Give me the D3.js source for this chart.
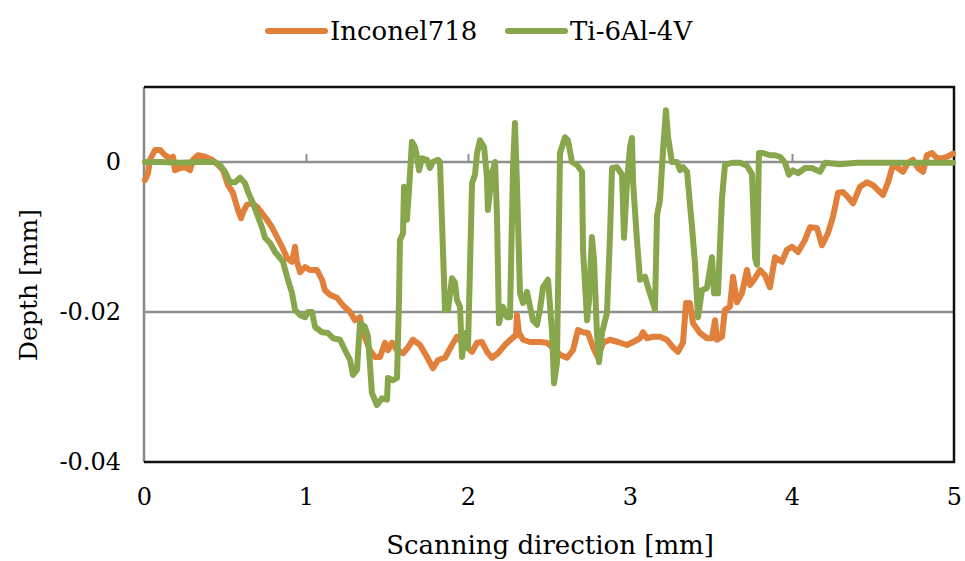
<!DOCTYPE html>
<html>
<head>
<meta charset="utf-8">
<script src="https://cdn.jsdelivr.net/npm/d3@7"></script>
<style>
  body { margin: 0; background: #fff; }
</style>
</head>
<body>
<div id="chart"></div>
<script>
const xTicks = [0, 1, 2, 3, 4, 5];
const yTicks = [0, -0.02, -0.04];
const seriesNames = ["Inconel718", "Ti-6Al-4V"];
const seriesColors = ["#e0803a", "#88a64b"];

// Inconel718 profile: scanning position [mm] and depth [mm]
const inconelX = [0.006,0.025,0.037,0.068,0.099,0.130,0.160,0.179,0.191,0.222,
  0.253,0.284,0.302,0.333,0.377,0.420,0.457,0.488,0.519,0.549,
  0.580,0.599,0.611,0.636,0.667,0.698,0.728,0.759,0.790,0.821,
  0.852,0.883,0.914,0.932,0.944,0.963,0.994,1.025,1.068,1.099,
  1.117,1.148,1.191,1.228,1.272,1.302,1.333,1.352,1.395,1.426,
  1.457,1.488,1.506,1.531,1.562,1.599,1.630,1.660,1.704,1.747,
  1.784,1.815,1.858,1.901,1.932,1.963,1.994,2.025,2.056,2.086,
  2.117,2.148,2.185,2.228,2.272,2.296,2.302,2.315,2.340,2.383,
  2.444,2.488,2.525,2.568,2.611,2.648,2.679,2.710,2.741,2.772,
  2.802,2.833,2.877,2.926,2.981,3.019,3.062,3.080,3.105,3.142,
  3.185,3.228,3.265,3.296,3.327,3.346,3.370,3.389,3.432,3.475,
  3.506,3.525,3.537,3.568,3.586,3.617,3.636,3.660,3.691,3.722,
  3.741,3.772,3.802,3.833,3.864,3.895,3.938,3.969,4.000,4.037,
  4.080,4.111,4.154,4.185,4.222,4.253,4.284,4.315,4.346,4.377,
  4.420,4.463,4.500,4.543,4.562,4.593,4.623,4.654,4.685,4.716,
  4.747,4.778,4.809,4.833,4.864,4.895,4.926,4.957,4.994];
const inconelDepth = [-0.0024,-0.0015,0.0003,0.0016,0.0016,0.0009,0.0005,0.0007,-0.0011,-0.0008,
  -0.0007,-0.0011,0.0003,0.0009,0.0007,0.0003,-0.0004,-0.0011,-0.0031,-0.0041,
  -0.0064,-0.0075,-0.0067,-0.0057,-0.0055,-0.0060,-0.0068,-0.0077,-0.0087,-0.0100,
  -0.0113,-0.0128,-0.0133,-0.0113,-0.0133,-0.0147,-0.0140,-0.0144,-0.0144,-0.0157,
  -0.0171,-0.0177,-0.0181,-0.0191,-0.0200,-0.0211,-0.0207,-0.0228,-0.0251,-0.0260,
  -0.0260,-0.0241,-0.0251,-0.0241,-0.0251,-0.0255,-0.0247,-0.0237,-0.0244,-0.0260,
  -0.0275,-0.0264,-0.0261,-0.0244,-0.0233,-0.0240,-0.0247,-0.0253,-0.0241,-0.0240,
  -0.0253,-0.0261,-0.0255,-0.0244,-0.0235,-0.0231,-0.0204,-0.0228,-0.0237,-0.0240,
  -0.0240,-0.0241,-0.0248,-0.0257,-0.0261,-0.0251,-0.0224,-0.0227,-0.0228,-0.0247,
  -0.0261,-0.0241,-0.0237,-0.0240,-0.0244,-0.0240,-0.0235,-0.0227,-0.0235,-0.0233,
  -0.0233,-0.0237,-0.0247,-0.0253,-0.0241,-0.0188,-0.0188,-0.0215,-0.0228,-0.0235,
  -0.0235,-0.0211,-0.0237,-0.0233,-0.0197,-0.0193,-0.0153,-0.0187,-0.0175,-0.0144,
  -0.0164,-0.0155,-0.0144,-0.0151,-0.0167,-0.0127,-0.0133,-0.0117,-0.0113,-0.0120,
  -0.0104,-0.0087,-0.0088,-0.0111,-0.0095,-0.0073,-0.0041,-0.0040,-0.0047,-0.0055,
  -0.0033,-0.0027,-0.0031,-0.0040,-0.0044,-0.0027,-0.0004,-0.0008,-0.0013,-0.0001,
  0.0003,-0.0008,-0.0013,0.0009,0.0012,0.0005,0.0005,0.0007,0.0011];

// Ti-6Al-4V profile
const tiX = [0.006,0.099,0.222,0.346,0.438,0.469,0.500,0.531,0.562,0.593,
  0.623,0.642,0.673,0.704,0.728,0.747,0.778,0.809,0.840,0.858,
  0.883,0.914,0.932,0.963,0.994,1.012,1.037,1.056,1.099,1.136,
  1.167,1.210,1.241,1.272,1.290,1.315,1.333,1.364,1.383,1.407,
  1.438,1.469,1.500,1.506,1.537,1.562,1.574,1.580,1.599,1.605,
  1.623,1.636,1.654,1.673,1.685,1.698,1.716,1.747,1.765,1.784,
  1.815,1.827,1.858,1.877,1.901,1.920,1.932,1.951,1.963,1.981,
  2.000,2.025,2.043,2.056,2.074,2.099,2.117,2.123,2.148,2.167,
  2.179,2.191,2.216,2.241,2.259,2.278,2.290,2.302,2.321,2.340,
  2.364,2.383,2.401,2.426,2.444,2.463,2.494,2.519,2.531,2.549,
  2.568,2.599,2.617,2.642,2.673,2.704,2.710,2.735,2.747,2.765,
  2.778,2.796,2.809,2.827,2.858,2.877,2.889,2.920,2.951,2.963,
  2.981,3.000,3.012,3.019,3.043,3.062,3.093,3.111,3.136,3.154,
  3.167,3.185,3.204,3.222,3.235,3.259,3.290,3.309,3.327,3.352,
  3.383,3.401,3.420,3.444,3.475,3.506,3.519,3.543,3.568,3.586,
  3.630,3.679,3.722,3.753,3.772,3.784,3.796,3.821,3.864,3.895,
  3.926,3.957,3.981,4.006,4.037,4.080,4.123,4.173,4.204,4.296,
  4.401,4.500,4.605,4.710,4.809,4.914,4.994];
const tiDepth = [0,0,-0.0001,0,0,-0.0004,-0.0013,-0.0027,-0.0027,-0.0021,
  -0.0028,-0.0040,-0.0055,-0.0073,-0.0087,-0.0101,-0.0108,-0.0120,-0.0128,-0.0133,
  -0.0153,-0.0175,-0.0197,-0.0204,-0.0207,-0.0200,-0.0200,-0.0220,-0.0227,-0.0228,
  -0.0235,-0.0237,-0.0251,-0.0264,-0.0284,-0.0277,-0.0215,-0.0220,-0.0233,-0.0308,
  -0.0324,-0.0315,-0.0317,-0.0288,-0.0291,-0.0288,-0.0184,-0.0104,-0.0095,-0.0033,
  -0.0077,-0.0037,0.0027,0.0020,0.0007,-0.0011,0.0005,0.0003,-0.0008,0,
  0.0003,0,-0.0197,-0.0197,-0.0155,-0.0161,-0.0184,-0.0193,-0.0260,-0.0228,
  -0.0248,-0.0028,-0.0017,0.0012,0.0029,0.0020,-0.0020,-0.0064,-0.0015,0,
  -0.0073,-0.0215,-0.0193,-0.0207,-0.0207,-0.0007,0.0052,-0.0028,-0.0175,-0.0188,
  -0.0173,-0.0193,-0.0211,-0.0217,-0.0197,-0.0167,-0.0157,-0.0228,-0.0295,-0.0268,
  0.0012,0.0033,0.0029,0,-0.0004,-0.0013,-0.0117,-0.0211,-0.0184,-0.0100,
  -0.0131,-0.0228,-0.0267,-0.0228,-0.0201,-0.0095,-0.0008,-0.0007,-0.0017,-0.0101,
  -0.0028,0.0020,0.0032,-0.0027,-0.0104,-0.0157,-0.0153,-0.0167,-0.0184,-0.0197,
  -0.0071,-0.0051,0.0016,0.0069,0.0033,0,0,-0.0011,-0.0007,-0.0013,
  -0.0087,-0.0135,-0.0207,-0.0171,-0.0168,-0.0127,-0.0175,-0.0175,-0.0048,-0.0004,
  -0.0001,-0.0001,-0.0005,-0.0016,-0.0128,-0.0137,0.0012,0.0012,0.0009,0.0009,
  0.0007,-0.0001,-0.0017,-0.0011,-0.0015,-0.0008,-0.0008,-0.0013,-0.0001,-0.0003,
  -0.0001,-0.0001,-0.0001,-0.0001,-0.0001,-0.0001,-0.0001];

const width = 965;
const height = 561;
const margin = { top: 87, right: 11, bottom: 99, left: 144 };
const innerWidth = width - margin.left - margin.right;
const innerHeight = height - margin.top - margin.bottom;
const serif = "DejaVu Serif";

const svg = d3.select("#chart")
  .append("svg")
  .attr("width", width)
  .attr("height", height)
  .attr("font-family", serif);

const chart = svg.append("g")
  .attr("transform", `translate(${margin.left},${margin.top})`);

const xScale = d3.scaleLinear().domain([0, 5]).range([0, innerWidth]);
const yScale = d3.scaleLinear().domain([-0.04, 0.01]).range([innerHeight, 0]);

// horizontal gridlines
chart.selectAll(".grid")
  .data(yTicks.filter((d) => d !== -0.04))
  .join("line")
  .attr("class", "grid")
  .attr("x1", 0)
  .attr("x2", innerWidth)
  .attr("y1", (d) => yScale(d))
  .attr("y2", (d) => yScale(d))
  .attr("stroke", "#8f8f8f")
  .attr("stroke-width", 2.5);

// x axis crosses at depth 0, ticks pointing up
const xAxisGroup = chart.append("g")
  .attr("transform", `translate(0,${yScale(0)})`)
  .call(d3.axisTop(xScale).tickValues([1, 2, 3, 4]).tickSize(8).tickFormat(""));
xAxisGroup.select(".domain").remove();
xAxisGroup.selectAll("line").attr("stroke", "#8f8f8f").attr("stroke-width", 2);

// x tick labels sit below the plot
const xLabelGroup = chart.append("g")
  .attr("transform", `translate(0,${innerHeight})`)
  .call(d3.axisBottom(xScale).tickValues(xTicks).tickSize(0).tickPadding(26).tickFormat(d3.format("d")))
  .attr("font-family", serif)
  .attr("font-size", 24);
xLabelGroup.select(".domain").remove();
xLabelGroup.selectAll("text").attr("fill", "#000");

const yAxisGroup = chart.append("g")
  .call(d3.axisLeft(yScale).tickValues(yTicks).tickSize(0).tickPadding(23)
    .tickFormat((d) => (d === 0 ? "0" : d.toFixed(2))))
  .attr("font-family", serif)
  .attr("font-size", 24);
yAxisGroup.select(".domain").remove();
yAxisGroup.selectAll("text").attr("fill", "#000");

// plot frame
chart.append("line")
  .attr("x1", 0).attr("x2", 0)
  .attr("y1", 0).attr("y2", innerHeight)
  .attr("stroke", "#8a8a8a").attr("stroke-width", 2.5);
chart.append("path")
  .attr("d", `M0,0H${innerWidth}V${innerHeight}H0`)
  .attr("fill", "none")
  .attr("stroke", "#111")
  .attr("stroke-width", 2.5);

const line = d3.line()
  .x((d) => xScale(d[0]))
  .y((d) => yScale(d[1]));

const series = [
  d3.zip(inconelX, inconelDepth),
  d3.zip(tiX, tiDepth)
];

chart.selectAll(".profile")
  .data(series)
  .join("path")
  .attr("class", "profile")
  .attr("d", line)
  .attr("fill", "none")
  .attr("stroke", (d, i) => seriesColors[i])
  .attr("stroke-width", 6)
  .attr("stroke-linejoin", "round")
  .attr("stroke-linecap", "round");

// legend
const legendX = [268, 508];
const legend = svg.selectAll(".legend-item")
  .data(seriesNames)
  .join("g")
  .attr("class", "legend-item")
  .attr("transform", (d, i) => `translate(${legendX[i]},31)`);

legend.append("line")
  .attr("x1", 0).attr("x2", 57)
  .attr("stroke", (d, i) => seriesColors[i])
  .attr("stroke-width", 6)
  .attr("stroke-linecap", "round");

legend.append("text")
  .attr("x", 62)
  .attr("dy", "0.35em")
  .attr("font-size", 26)
  .text((d) => d);

svg.append("text")
  .attr("transform", "rotate(-90)")
  .attr("x", -285)
  .attr("y", 28)
  .attr("dy", "0.35em")
  .attr("text-anchor", "middle")
  .attr("font-size", 25)
  .text("Depth [mm]");

svg.append("text")
  .attr("x", 550)
  .attr("y", 554)
  .attr("text-anchor", "middle")
  .attr("font-size", 26)
  .text("Scanning direction [mm]");
</script>
</body>
</html>
